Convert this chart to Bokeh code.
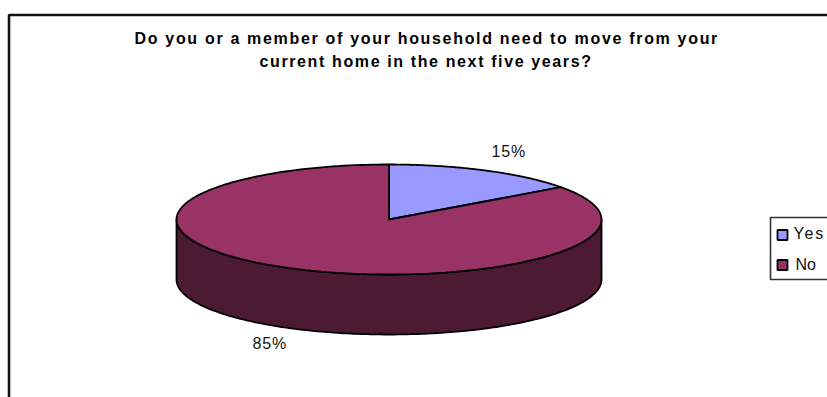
import numpy as np
from bokeh.core.properties import value
from bokeh.document import Document
from bokeh.embed import file_html
from bokeh.models import ColumnDataSource, CustomJS, Range1d
from bokeh.plotting import figure
from bokeh.resources import INLINE

# Survey answers
categories = ["Yes", "No"]
shares = [15, 85]
title_lines = [
    "Do you or a member of your household need to move from your",
    "current home in the next five years?",
]

top_colors = ["#9999FF", "#993366"]
side_color = "#4C1A33"
ink = "#000000"
font = value("Liberation Sans")

W, H = 827, 397
# Page-pixel coordinate system with y running downward
p = figure(width=W, height=H, output_backend="svg", toolbar_location=None,
           x_range=Range1d(0, W), y_range=Range1d(H, 0), min_border=0,
           x_axis_type=None, y_axis_type=None, outline_line_color=None,
           background_fill_color="white", border_fill_color="white")
p.grid.visible = False

# Chart frame: only the top and left edges fall inside the page
p.line([8.5, 8.5, W], [H, 14.5, 14.5], line_color="#111111", line_width=2.6)

# Title, anchored at the left so the wider tracking keeps its position
p.text(x=[134, 259], y=[37.5, 61], text=title_lines, text_font=font,
       text_font_size="16px", text_font_style="bold", text_align="left",
       text_baseline="middle", text_color=ink)

# Tilted pie geometry
cx, cy, rx, ry, depth = 388.5, 219, 212.5, 55, 60


def rim(start, stop, n=200):
    """Points on the top ellipse, angles clockwise from twelve o'clock."""
    t = np.radians(np.linspace(start, stop, n))
    return cx + rx * np.sin(t), cy - ry * np.cos(t)


# Side wall: the front half of the rim, extruded downward
sx, sy = rim(90, 270)
p.patch(np.r_[sx, sx[::-1]], np.r_[sy, (sy + depth)[::-1]],
        fill_color=side_color, line_color=ink, line_width=1.8)

# Top face slices, taken from the shares
bounds = np.cumsum([0] + shares) / sum(shares) * 360
xs, ys = [], []
for a, b in zip(bounds[:-1], bounds[1:]):
    ex, ey = rim(a, b)
    xs.append(np.r_[cx, ex].tolist())
    ys.append(np.r_[cy, ey].tolist())
p.patches(xs, ys, fill_color=top_colors, line_color=ink, line_width=1.8)

# Percentage labels
p.text(x=[491, 252], y=[150.5, 342.5], text=[f"{s}%" for s in shares],
       text_font=font, text_font_size="16px", text_align="left",
       text_baseline="middle", text_color="#111111")

# Legend box, open at the page edge
p.line([W, 770, 770, W], [217, 217, 279, 279], line_color="#333333", line_width=1.6)
legend = ColumnDataSource(dict(x=[782] * 2, y=[234.5, 264.5], ty=[233, 264],
                               color=top_colors, label=categories, tx=[793, 795]))
p.rect(x="x", y="y", width=10, height=10, fill_color="color", line_color=ink,
       line_width=1.8, source=legend)
p.text(x="tx", y="ty", text="label", text_font=font, text_font_size="16px",
       text_baseline="middle", text_color="#111111", source=legend)

# Open up the tracking of the drawn SVG texts once the page has rendered
tracking = {title_lines[0]: 1.68, title_lines[1]: 1.62, "Yes": 1.8,
            f"{shares[0]}%": 0.8, f"{shares[1]}%": 0.8}
doc = Document()
doc.add_root(p)
doc.js_on_event("document_ready", CustomJS(args=dict(tracking=tracking), code="""
    const apply = (root) => {
        root.querySelectorAll('*').forEach((el) => {
            if (el.shadowRoot) apply(el.shadowRoot);
            if (el.tagName.toLowerCase() === 'text' && el.textContent in tracking) {
                el.setAttribute('letter-spacing', tracking[el.textContent]);
            }
        });
    };
    const run = () => apply(document);
    run();
    setTimeout(run, 50);
    setTimeout(run, 300);
"""))

open("out.html", "w").write(file_html(p, INLINE))
